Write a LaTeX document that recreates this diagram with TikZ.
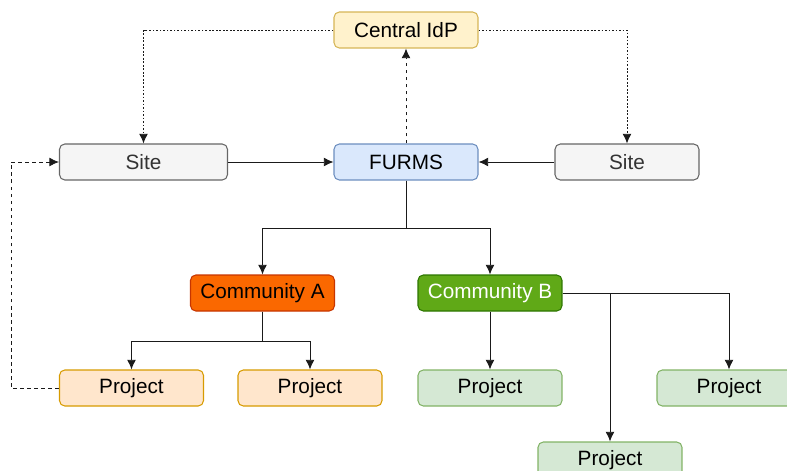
\documentclass[tikz,border=0pt]{standalone}
\usepackage{fontspec}
\setmainfont{Liberation Sans}
\usepackage{xcolor}
\usetikzlibrary{arrows.meta,calc,positioning}
\definecolor{idpfill}{HTML}{FFF2CC}
\definecolor{idpline}{HTML}{D6B656}
\definecolor{furmsfill}{HTML}{DAE8FC}
\definecolor{furmsline}{HTML}{6C8EBF}
\definecolor{sitefill}{HTML}{F5F5F5}
\definecolor{siteline}{HTML}{666666}
\definecolor{sitetext}{HTML}{333333}
\definecolor{cafill}{HTML}{FA6800}
\definecolor{caline}{HTML}{C73500}
\definecolor{cbfill}{HTML}{60A917}
\definecolor{cbline}{HTML}{2D7600}
\definecolor{pafill}{HTML}{FFE6CC}
\definecolor{paline}{HTML}{D79B00}
\definecolor{pbfill}{HTML}{D5E8D4}
\definecolor{pbline}{HTML}{82B366}
\definecolor{edge}{HTML}{1A1A1A}
\tikzstyle{box}=[draw,rounded corners=3pt,line width=0.6pt,minimum height=0.72cm,minimum width=2.88cm,text centered,font=\fontsize{11.8}{14}\selectfont]
\tikzstyle{idp}=[box,fill=idpfill,draw=idpline]
\tikzstyle{furms}=[box,fill=furmsfill,draw=furmsline]
\tikzstyle{site}=[box,fill=sitefill,draw=siteline,text=sitetext]
\tikzstyle{comma}=[box,fill=cafill,draw=caline]
\tikzstyle{commb}=[box,fill=cbfill,draw=cbline,text=white]
\tikzstyle{proja}=[box,fill=pafill,draw=paline]
\tikzstyle{projb}=[box,fill=pbfill,draw=pbline]
\tikzstyle{dots}=[dash pattern=on 1pt off 1pt]
\tikzstyle{dashes}=[dash pattern=on 2pt off 2pt]

\begin{document}
\begin{tikzpicture}[
            >={Latex[length=5.5pt,width=5pt]},
            auto,
            x=0.02cm, y=-0.02cm,
            line width=0.5pt, draw=edge
        ]
        \useasboundingbox (0,0) rectangle (787,470);
        \node [idp]   (idp)   at (406,30)  {Central IdP};
        \node [furms] (furms) at (406,162) {FURMS};
        \node [site,minimum width=3.36cm] (siteL) at (143.5,162) {Site};
        \node [site]  (siteR) at (627,162) {Site};
        \node [comma] (comA)  at (262.5,293) {Community A};
        \node [commb] (comB)  at (490,293) {Community B};
        \node [proja] (p1)    at (131.5,388) {Project};
        \node [proja] (p2)    at (310,388) {Project};
        \node [projb] (p3)    at (490,388) {Project};
        \node [projb] (p4)    at (729,388) {Project};
        \node [projb] (p5)    at (610,460) {Project};
        \draw[->, dots] (idp.west) -| (siteL.north);
        \draw[->, dots] (idp.east) -| (siteR.north);
        \draw[->, dashes] (furms) -- (idp);
        \draw[->] (siteL) -- (furms);
        \draw[->] (siteR) -- (furms);
        \draw[->] (furms.south) -- ($(furms.south)+(0,48)$) -| (comA.north);
        \draw[->] (furms.south) -- ($(furms.south)+(0,48)$) -| (comB.north);
        \draw[->] (comA.south) -- ($(comA.south)+(0,30)$) -| (p1.north);
        \draw[->] (comA.south) -- ($(comA.south)+(0,30)$) -| (p2.north);
        \draw[->] (comB) -- (p3);
        \draw[->] (comB.east) -| (p5.north);
        \draw[->] (comB.east) -| (p4.north);
        \draw[->, dashes] (p1.west) -- ($(p1.west)+(-48,0)$) |- (siteL.west);
    \end{tikzpicture}
\end{document}
